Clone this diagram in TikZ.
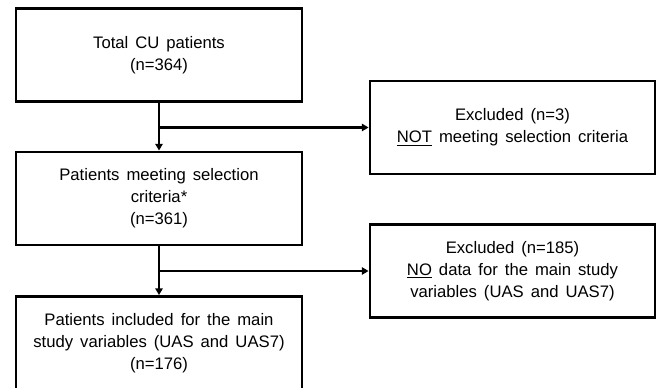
\documentclass[tikz,border=0pt]{standalone}
\usepackage{fontspec}
\setmainfont{Liberation Sans}
\usetikzlibrary{arrows.meta,calc}
\newcommand\boxfont{\fontsize{12.5}{16.5}\selectfont\spaceskip=0.42em\relax}
\tikzstyle{bx}=[rectangle,draw=black,fill=white,line width=2.2pt,
  align=center,font=\boxfont,inner sep=2pt]
\tikzstyle{lbx}=[bx,minimum width=286*0.75pt,minimum height=93*0.75pt]
\tikzstyle{rbx}=[bx,minimum width=285*0.75pt,minimum height=93*0.75pt]
\tikzstyle{ar}=[line width=1.8pt,-{Triangle[length=5pt,width=5.5pt]}]

\begin{document}
\begin{tikzpicture}[x=0.75pt,y=-0.75pt]
    \useasboundingbox (0,0) rectangle (656,388);
    \clip (0,0) rectangle (656,388);
    \node [style=lbx] (1) at (159, 55) {Total CU patients\\(n=364)};
    \node [style=lbx] (2) at (159, 198.5) {Patients meeting selection\\criteria*\\(n=361)};
    \node [style=lbx] (3) at (159, 343) {Patients included for the main\\study variables (UAS and UAS7)\\(n=176)};
    \node [style=rbx] (a) at (512.5, 127.5) {Excluded (n=3)\\\underline{NOT} meeting selection criteria};
    \node [style=rbx] (b) at (512.5, 271) {Excluded (n=185)\\\underline{NO} data for the main study\\variables (UAS and UAS7)};
    \draw [style=ar] (1) to (2);
    \draw [style=ar] (2) to (3);
    \draw [style=ar] (1.south |- a.west) to (a.west);
    \draw [style=ar] (2.south |- b.west) to (b.west);
\end{tikzpicture}
\end{document}
